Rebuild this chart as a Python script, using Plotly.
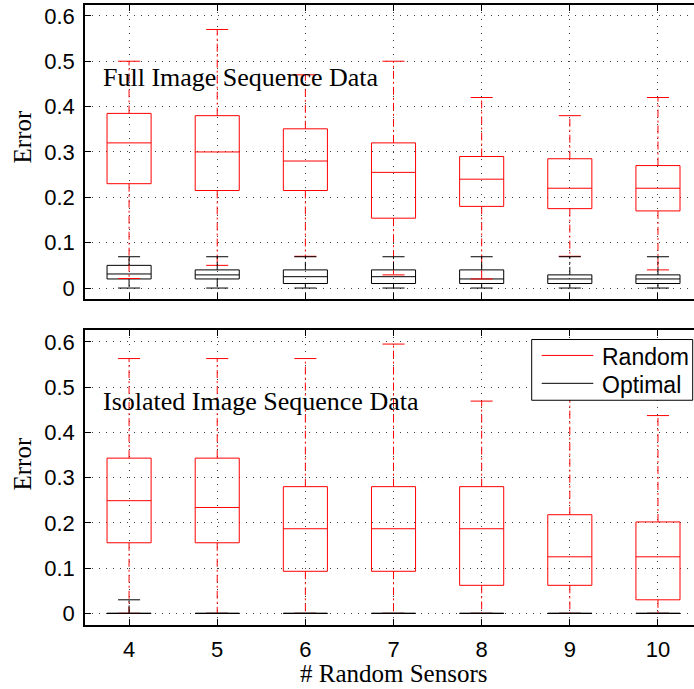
import plotly.graph_objects as go

W, H = 694, 689

cats = [4, 5, 6, 7, 8, 9, 10]
cat_labels = ["4", "5", "6", "7", "8", "9", "10"]
ytick_vals = [0, 0.1, 0.2, 0.3, 0.4, 0.5, 0.6]
ytick_text = ["0", "0.1", "0.2", "0.3", "0.4", "0.5", "0.6"]

# ---- Top panel: Full Image Sequence Data ----
full_rand_lo = [0.021, 0.050, 0.070, 0.029, 0.020, 0.070, 0.040]
full_rand_q1 = [0.230, 0.215, 0.215, 0.154, 0.180, 0.175, 0.170]
full_rand_med = [0.320, 0.300, 0.280, 0.255, 0.240, 0.220, 0.220]
full_rand_q3 = [0.385, 0.380, 0.351, 0.320, 0.290, 0.285, 0.270]
full_rand_hi = [0.500, 0.570, 0.470, 0.500, 0.420, 0.380, 0.420]

full_opt_lo = [0.0, 0.0, 0.0, 0.0, 0.0, 0.0, 0.0]
full_opt_q1 = [0.020, 0.020, 0.010, 0.010, 0.010, 0.010, 0.010]
full_opt_med = [0.031, 0.029, 0.025, 0.025, 0.020, 0.020, 0.020]
full_opt_q3 = [0.050, 0.040, 0.040, 0.040, 0.040, 0.029, 0.029]
full_opt_hi = [0.069, 0.069, 0.069, 0.069, 0.069, 0.069, 0.069]

# ---- Bottom panel: Isolated Image Sequence Data ----
iso_rand_lo = [0.0, 0.0, 0.0, 0.0, 0.0, 0.0, 0.0]
iso_rand_q1 = [0.156, 0.156, 0.093, 0.093, 0.062, 0.062, 0.030]
iso_rand_med = [0.249, 0.234, 0.187, 0.187, 0.187, 0.125, 0.125]
iso_rand_q3 = [0.343, 0.343, 0.280, 0.280, 0.280, 0.218, 0.202]
iso_rand_hi = [0.563, 0.563, 0.563, 0.595, 0.469, 0.563, 0.437]

iso_opt_lo = [0.0, 0.0, 0.0, 0.0, 0.0, 0.0, 0.0]
iso_opt_q1 = [0.0, 0.0, 0.0, 0.0, 0.0, 0.0, 0.0]
iso_opt_med = [0.0, 0.0, 0.0, 0.0, 0.0, 0.0, 0.0]
iso_opt_q3 = [0.0, 0.0, 0.0, 0.0, 0.0, 0.0, 0.0]
iso_opt_hi = [0.030, 0.0, 0.0, 0.0, 0.0, 0.0, 0.0]

BOX_W = 0.5
CAP_HALF = 0.125
WHISKER_DASH = "8px,3px,2px,3px"


def whiskers(lo, q1, q3, hi):
    xs, ys = [], []
    for c, a, b, d, e in zip(cats, lo, q1, q3, hi):
        xs += [c, c, None, c, c, None]
        ys += [b, a, None, d, e, None]
    return xs, ys


def caps(lo, hi):
    xs, ys = [], []
    for c, a, e in zip(cats, lo, hi):
        xs += [c - CAP_HALF, c + CAP_HALF, None, c - CAP_HALF, c + CAP_HALF, None]
        ys += [a, a, None, e, e, None]
    return xs, ys


fig = go.Figure()


def add_group(lo, q1, med, q3, hi, color, xa, ya):
    wx, wy = whiskers(lo, q1, q3, hi)
    fig.add_trace(go.Scatter(x=wx, y=wy, mode="lines", xaxis=xa, yaxis=ya,
                             line=dict(color=color, width=1, dash=WHISKER_DASH),
                             showlegend=False, hoverinfo="skip"))
    cx, cy = caps(lo, hi)
    fig.add_trace(go.Scatter(x=cx, y=cy, mode="lines", xaxis=xa, yaxis=ya,
                             line=dict(color=color, width=1),
                             showlegend=False, hoverinfo="skip"))
    fig.add_trace(go.Box(x=cats, q1=q1, median=med, q3=q3,
                         lowerfence=q1, upperfence=q3,
                         width=BOX_W, whiskerwidth=0, boxpoints=False,
                         line=dict(color=color, width=1),
                         fillcolor="rgba(0,0,0,0)",
                         xaxis=xa, yaxis=ya, showlegend=False))


add_group(full_rand_lo, full_rand_q1, full_rand_med, full_rand_q3, full_rand_hi, "#ff0000", "x", "y")
add_group(full_opt_lo, full_opt_q1, full_opt_med, full_opt_q3, full_opt_hi, "#000000", "x", "y")
add_group(iso_rand_lo, iso_rand_q1, iso_rand_med, iso_rand_q3, iso_rand_hi, "#ff0000", "x2", "y2")
add_group(iso_opt_lo, iso_opt_q1, iso_opt_med, iso_opt_q3, iso_opt_hi, "#000000", "x2", "y2")

x_dom = [85 / W, 1.0]
top_dom = [1 - 299 / H, 1 - 4 / H]
bot_dom = [1 - 626.7 / H, 1 - 330.7 / H]
x_range = [3.5, 3.5 + (W - 85.2) / 88.12]

grid_common = dict(showgrid=True, gridcolor="rgba(0,0,0,0.75)", gridwidth=1,
                   griddash="1px,6px", zeroline=False)
axis_common = dict(showline=True, linecolor="black", linewidth=1.6,
                   ticks="inside", ticklen=6, tickcolor="black", tickwidth=1,
                   tickfont=dict(family="Liberation Sans", size=22, color="black"))

fig.update_layout(
    width=W, height=H,
    margin=dict(l=0, r=0, t=0, b=0),
    paper_bgcolor="white", plot_bgcolor="white",
    boxmode="overlay",
    showlegend=False,
    xaxis=dict(domain=x_dom, range=x_range, anchor="y", tickvals=cats,
               showticklabels=False, mirror="ticks", **grid_common, **axis_common),
    yaxis=dict(domain=top_dom, range=[-0.0235, 0.624], anchor="x",
               tickvals=ytick_vals, ticktext=ytick_text, mirror=False,
               ticklabelstandoff=4, **grid_common, **axis_common),
    xaxis2=dict(domain=x_dom, range=x_range, anchor="y2", tickvals=cats,
                ticktext=cat_labels, mirror="ticks", ticklabelstandoff=4,
                **grid_common, **axis_common),
    yaxis2=dict(domain=bot_dom, range=[-0.0256, 0.6255], anchor="x2",
                tickvals=ytick_vals, ticktext=ytick_text, mirror=False,
                ticklabelstandoff=4, **grid_common, **axis_common),
)

serif = "Liberation Serif"
annots = [
    dict(text="Full Image Sequence Data", x=100.7 / W, y=1 - 77.1 / H,
         xanchor="left", yanchor="middle", font=dict(family=serif, size=26)),
    dict(text="Isolated Image Sequence Data", x=100.7 / W, y=1 - 402.1 / H,
         xanchor="left", yanchor="middle", font=dict(family=serif, size=26)),
    dict(text="Error", x=22.5 / W, y=1 - 136.5 / H, textangle=-90,
         xanchor="center", yanchor="middle", font=dict(family=serif, size=25)),
    dict(text="Error", x=22.5 / W, y=1 - 465 / H, textangle=-90,
         xanchor="center", yanchor="middle", font=dict(family=serif, size=25)),
    dict(text="# Random Sensors", x=394 / W, y=1 - 675.9 / H,
         xanchor="center", yanchor="middle", font=dict(family=serif, size=25)),
    dict(text="Random", x=600 / W, y=1 - 357.2 / H,
         xanchor="left", yanchor="middle", font=dict(family="Liberation Sans", size=23)),
    dict(text="Optimal", x=600 / W, y=1 - 385.5 / H,
         xanchor="left", yanchor="middle", font=dict(family="Liberation Sans", size=23)),
]
for a in annots:
    a.update(xref="paper", yref="paper", showarrow=False)
    a["font"]["color"] = "black"
    fig.add_annotation(**a)

# custom legend frame and samples
fig.add_shape(type="rect", xref="paper", yref="paper",
              x0=531.7 / W, x1=692.7 / W, y0=1 - 401 / H, y1=1 - 340 / H,
              fillcolor="white", line=dict(color="black", width=1), layer="above")
fig.add_shape(type="line", xref="paper", yref="paper",
              x0=541.7 / W, x1=593.3 / W, y0=1 - 356 / H, y1=1 - 356 / H,
              line=dict(color="#ff0000", width=1), layer="above")
fig.add_shape(type="line", xref="paper", yref="paper",
              x0=541.7 / W, x1=593.3 / W, y0=1 - 384 / H, y1=1 - 384 / H,
              line=dict(color="black", width=1), layer="above")

fig.write_html("out.html")
